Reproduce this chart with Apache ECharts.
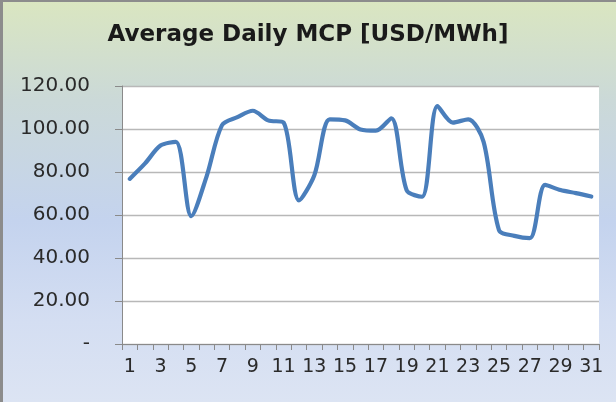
<!DOCTYPE html>
<html>
<head>
<meta charset="utf-8">
<script src="https://cdn.jsdelivr.net/npm/echarts@6/dist/echarts.min.js"></script>
<style>
html,body{margin:0;padding:0;}
#wrap{position:relative;width:616px;height:402px;overflow:hidden;
background:linear-gradient(to bottom,#dae6c0 0%,#cbd9d8 25%,#c4d3ee 55%,#d4def2 80%,#dce4f3 100%);}
#wrap:before{content:"";position:absolute;left:0;top:0;width:616px;height:2px;background:#8c8c8c;}
#wrap:after{content:"";position:absolute;left:0;top:0;width:3px;height:402px;background:#8c8c8c;}
#chart{position:absolute;left:0;top:0;width:616px;height:402px;}
</style>
</head>
<body>
<div id="wrap"><div id="chart"></div></div>
<script>
const titleText = "Average Daily MCP [USD/MWh]";
const days = ["1","2","3","4","5","6","7","8","9","10","11","12","13","14","15","16","17","18","19","20","21","22","23","24","25","26","27","28","29","30","31"];
const mcp = [76.8, 84, 92.3, 94, 59.5, 78, 101.8, 105.5, 108.5, 104, 103, 66.8, 78.5, 104.5, 104, 99.8, 99.2, 105, 71.5, 68.5, 110.7, 103, 104.5, 94, 53, 50.3, 49.2, 74, 71.6, 70.2, 68.6];
const yTicks = [0, 20, 40, 60, 80, 100, 120];

const chart = echarts.init(document.getElementById('chart'), null, {renderer:'canvas'});
chart.setOption({
  backgroundColor: 'transparent',
  animation: false,
  title: {
    text: titleText, left: 'center', top: 19,
    textStyle: {fontFamily: 'DejaVu Sans', fontWeight: 'bold', fontSize: 23, color: '#1a1a1a'}
  },
  grid: {left: 122, right: 17, top: 86, bottom: 58, show: true, backgroundColor: '#ffffff', borderWidth: 0},
  xAxis: {
    type: 'category', data: days, boundaryGap: true,
    axisLine: {lineStyle: {color: '#8a8a8a', width: 1}},
    axisTick: {show: true, length: 6, interval: 0, lineStyle: {color: '#8a8a8a'}},
    axisLabel: {interval: 1, margin: 14, fontFamily: 'DejaVu Sans', fontSize: 19, color: '#2a2a2a'},
    splitLine: {show: false}
  },
  yAxis: {
    type: 'value', min: 0, max: 120, interval: 20,
    axisLine: {show: true, lineStyle: {color: '#8a8a8a', width: 1}},
    axisTick: {show: true, length: 7, lineStyle: {color: '#8a8a8a'}},
    axisLabel: {margin: 32, fontFamily: 'DejaVu Sans', fontSize: 20, color: '#2a2a2a',
      formatter: v => yTicks.indexOf(v) === 0 ? '-' : v.toFixed(2)},
    splitLine: {show: true, lineStyle: {color: '#b8b8b8', width: 1.3}}
  },
  series: [{
    type: 'line', data: mcp, smooth: 0.3, symbol: 'none',
    lineStyle: {color: '#4a7ebb', width: 4.2, cap: 'round', join: 'round'}
  }]
});
</script>
</body>
</html>
